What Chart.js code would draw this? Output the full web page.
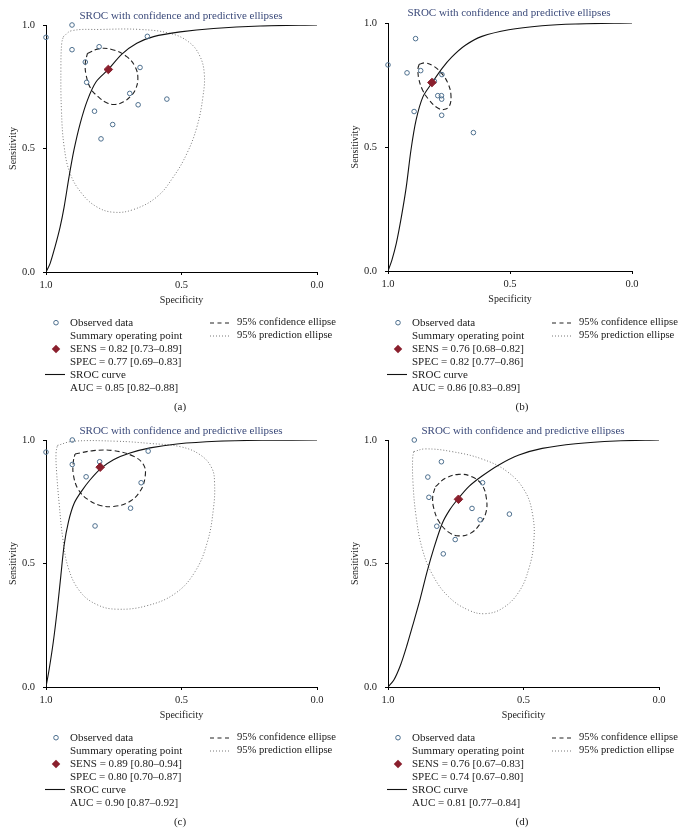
<!DOCTYPE html>
<html>
<head>
<meta charset="utf-8">
<script src="https://cdn.jsdelivr.net/npm/chart.js@4.4.1/dist/chart.umd.min.js"></script>
<style>
body { margin:0; background:#fff; width:684px; height:836px; position:relative; overflow:hidden; font-family:"Liberation Serif", "DejaVu Serif", serif; }
canvas { position:absolute; }
.ttl { position:absolute; font-size:11px; color:#3b4a7a; white-space:nowrap; transform:translate(-50%,-50%); }
.lg { position:absolute; font-size:11px; color:#1a1a1a; white-space:nowrap; line-height:12.9px; }
.lg.r { font-size:10.6px; }
.cap { position:absolute; font-size:11px; color:#1a1a1a; transform:translate(-50%,-50%); }
svg { position:absolute; left:0; top:0; }
</style>
</head>
<body>
<canvas id="pa" width="342" height="310" style="left:0;top:0"></canvas>
<canvas id="pb" width="342" height="310" style="left:342px;top:0"></canvas>
<canvas id="pc" width="342" height="310" style="left:0;top:415px"></canvas>
<canvas id="pd" width="342" height="310" style="left:342px;top:415px"></canvas>
<svg id="marks" width="684" height="836"></svg>
<script>
// panel (a)
const specA = [1.00, 0.904, 0.904, 0.804, 0.855, 0.850, 0.626, 0.653, 0.691, 0.660, 0.554, 0.821, 0.754, 0.797];
const sensA = [0.950, 1.000, 0.900, 0.912, 0.850, 0.768, 0.954, 0.828, 0.723, 0.677, 0.700, 0.651, 0.597, 0.539];
const summaryA = {spec: 0.77, sens: 0.82};
const srocSpecA = [1.0, 0.985, 0.967, 0.948, 0.933, 0.915, 0.897, 0.874, 0.847, 0.815, 0.770, 0.720, 0.665, 0.603, 0.505, 0.382, 0.209, 0.0];
const srocSensA = [0, 0.034, 0.101, 0.182, 0.264, 0.385, 0.493, 0.601, 0.696, 0.770, 0.820, 0.882, 0.926, 0.953, 0.972, 0.986, 0.996, 1.0];
const confSpecA = [0.847, 0.800, 0.751, 0.702, 0.671, 0.661, 0.671, 0.690, 0.714, 0.745, 0.776, 0.807, 0.835, 0.852, 0.855];
const confSensA = [0.885, 0.905, 0.899, 0.872, 0.831, 0.784, 0.736, 0.709, 0.689, 0.678, 0.685, 0.709, 0.743, 0.797, 0.845];
const predSpecA = [0.936, 0.905, 0.800, 0.653, 0.542, 0.474, 0.434, 0.416, 0.421, 0.443, 0.480, 0.530, 0.591, 0.677, 0.751, 0.813, 0.868, 0.911, 0.933, 0.943, 0.945, 0.942];
const predSensA = [0.953, 0.977, 0.982, 0.982, 0.966, 0.932, 0.878, 0.804, 0.709, 0.588, 0.480, 0.385, 0.304, 0.253, 0.242, 0.264, 0.318, 0.399, 0.507, 0.655, 0.831, 0.926];

// panel (b)
const specB = [1.0, 0.887, 0.922, 0.866, 0.893, 0.810, 0.779, 0.796, 0.781, 0.780, 0.780, 0.650];
const sensB = [0.831, 0.937, 0.799, 0.808, 0.643, 0.765, 0.792, 0.707, 0.707, 0.693, 0.628, 0.558];
const summaryB = {spec: 0.82, sens: 0.76};
const srocSpecB = [1.0, 0.984, 0.966, 0.945, 0.925, 0.906, 0.885, 0.857, 0.820, 0.779, 0.738, 0.683, 0.615, 0.505, 0.369, 0.232, 0.0];
const srocSensB = [0, 0.044, 0.111, 0.219, 0.340, 0.487, 0.608, 0.702, 0.758, 0.816, 0.863, 0.910, 0.946, 0.973, 0.989, 0.996, 1.0];
const confSpecB = [0.872, 0.847, 0.813, 0.779, 0.754, 0.742, 0.749, 0.772, 0.799, 0.831, 0.858, 0.874, 0.877];
const confSensB = [0.834, 0.839, 0.826, 0.796, 0.756, 0.709, 0.664, 0.651, 0.659, 0.689, 0.729, 0.776, 0.816];

// panel (c)
const specC = [1.0, 0.903, 0.903, 0.802, 0.852, 0.623, 0.649, 0.688, 0.819];
const sensC = [0.951, 1.0, 0.901, 0.912, 0.851, 0.955, 0.827, 0.724, 0.652];
const summaryC = {spec: 0.80, sens: 0.89};
const srocSpecC = [1.0, 0.988, 0.973, 0.958, 0.945, 0.933, 0.917, 0.896, 0.868, 0.837, 0.797, 0.751, 0.690, 0.616, 0.517, 0.369, 0.185, 0.0];
const srocSensC = [0, 0.074, 0.183, 0.318, 0.453, 0.575, 0.670, 0.744, 0.794, 0.839, 0.885, 0.920, 0.947, 0.968, 0.984, 0.995, 0.999, 1.0];
const confSpecC = [0.893, 0.825, 0.751, 0.677, 0.640, 0.634, 0.653, 0.696, 0.751, 0.800, 0.844, 0.880, 0.899, 0.899];
const confSensC = [0.943, 0.957, 0.957, 0.934, 0.900, 0.853, 0.792, 0.748, 0.731, 0.735, 0.758, 0.798, 0.859, 0.913];
const predSpecC = [0.958, 0.899, 0.739, 0.616, 0.505, 0.431, 0.388, 0.378, 0.382, 0.404, 0.450, 0.523, 0.628, 0.739, 0.813, 0.874, 0.917, 0.938, 0.951, 0.961, 0.963];
const predSensC = [0.978, 0.995, 0.995, 0.986, 0.973, 0.940, 0.886, 0.825, 0.724, 0.589, 0.467, 0.379, 0.329, 0.315, 0.334, 0.386, 0.480, 0.602, 0.737, 0.873, 0.947];

// panel (d)
const specD = [0.903, 0.803, 0.853, 0.849, 0.651, 0.690, 0.660, 0.552, 0.820, 0.752, 0.796];
const sensD = [1.0, 0.912, 0.850, 0.768, 0.827, 0.723, 0.677, 0.700, 0.651, 0.597, 0.539];
const summaryD = {spec: 0.74, sens: 0.76};
const srocSpecD = [1.0, 0.979, 0.954, 0.930, 0.905, 0.881, 0.856, 0.831, 0.800, 0.773, 0.745, 0.702, 0.653, 0.591, 0.517, 0.431, 0.308, 0.160, 0.0];
const srocSensD = [0, 0.027, 0.088, 0.169, 0.264, 0.358, 0.466, 0.561, 0.662, 0.716, 0.757, 0.811, 0.854, 0.899, 0.939, 0.966, 0.985, 0.996, 1.0];
const confSpecD = [0.825, 0.788, 0.739, 0.690, 0.653, 0.637, 0.638, 0.659, 0.696, 0.739, 0.778, 0.813, 0.831, 0.835];
const confSensD = [0.811, 0.845, 0.861, 0.851, 0.818, 0.764, 0.709, 0.662, 0.622, 0.612, 0.628, 0.672, 0.723, 0.770];
const predSpecD = [0.905, 0.862, 0.764, 0.653, 0.560, 0.495, 0.466, 0.462, 0.480, 0.517, 0.576, 0.640, 0.702, 0.776, 0.835, 0.874, 0.897, 0.908, 0.909];
const predSensD = [0.953, 0.964, 0.953, 0.923, 0.872, 0.793, 0.696, 0.588, 0.480, 0.385, 0.320, 0.297, 0.311, 0.365, 0.453, 0.561, 0.696, 0.831, 0.926];

const legendStats = {
    a: ['SENS = 0.82 [0.73\u20130.89]', 'SPEC = 0.77 [0.69\u20130.83]', 'AUC = 0.85 [0.82\u20130.88]'],
    b: ['SENS = 0.76 [0.68\u20130.82]', 'SPEC = 0.82 [0.77\u20130.86]', 'AUC = 0.86 [0.83\u20130.89]'],
    c: ['SENS = 0.89 [0.80\u20130.94]', 'SPEC = 0.80 [0.70\u20130.87]', 'AUC = 0.90 [0.87\u20130.92]'],
    d: ['SENS = 0.76 [0.67\u20130.83]', 'SPEC = 0.74 [0.67\u20130.80]', 'AUC = 0.81 [0.77\u20130.84]']
};

const serif = '"Liberation Serif", "DejaVu Serif", serif';
const pts = (xs, ys) => xs.map((x, i) => ({x: x, y: ys[i]}));
const loop = (xs, ys) => { let p = pts(xs, ys); return p.concat([p[0]]); };

function drawPanel(id, p) {
    let datasets = [
        {data: [{x: p.summary.spec, y: p.summary.sens}], pointStyle: 'rectRot', pointRadius: 4.3,
         backgroundColor: '#8a1f2d', borderColor: '#8a1f2d', showLine: false, clip: false},
        {data: pts(p.spec, p.sens), pointStyle: 'circle', pointRadius: 2.3, pointBorderWidth: 1,
         borderColor: '#4d6f8e', backgroundColor: 'rgba(255,255,255,0)', showLine: false, clip: false},
        {data: pts(p.srocSpec, p.srocSens), showLine: true, pointRadius: 0, borderColor: '#111',
         borderWidth: 1.1, tension: 0.3},
        {data: loop(p.confSpec, p.confSens), showLine: true, pointRadius: 0, borderColor: '#222',
         borderWidth: 1.1, borderDash: [5, 3], tension: 0.4}
    ];
    if (p.predSpec) {
        datasets.push({data: loop(p.predSpec, p.predSens), showLine: true, pointRadius: 0,
            borderColor: '#777', borderWidth: 1, borderDash: [1, 2], tension: 0.4});
    }
    const axisCommon = {
        type: 'linear', min: 0, max: 1,
        grid: {display: true, drawOnChartArea: false, tickLength: 3, color: '#000'},
        border: {display: true, color: '#000', width: 1}
    };
    new Chart(document.getElementById(id), {
        type: 'scatter',
        data: {datasets: datasets},
        options: {
            responsive: false, animation: false,
            layout: {padding: {top: p.top, right: p.right, bottom: p.bottom, left: 0}},
            plugins: {legend: {display: false}, tooltip: {enabled: false}},
            scales: {
                x: Object.assign({}, axisCommon, {
                    reverse: true,
                    ticks: {stepSize: 0.5, padding: 4, maxRotation: 0, color: '#222',
                            font: {family: serif, size: 10.5}, callback: v => v.toFixed(1)},
                    title: {display: true, text: 'Specificity', color: '#222',
                            font: {family: serif, size: 10}, padding: 0},
                    afterFit: s => { s.height = 34; }
                }),
                y: Object.assign({}, axisCommon, {
                    ticks: {stepSize: 0.5, padding: 8, color: '#222',
                            font: {family: serif, size: 10.5}, callback: v => v.toFixed(1)},
                    title: {display: true, text: 'Sensitivity', color: '#222',
                            font: {family: serif, size: 10}, padding: {top: 7, bottom: 0}},
                    afterFit: s => { s.width = 46; }
                })
            }
        }
    });
}

drawPanel('pa', {spec: specA, sens: sensA, summary: summaryA, srocSpec: srocSpecA, srocSens: srocSensA,
    confSpec: confSpecA, confSens: confSensA, predSpec: predSpecA, predSens: predSensA, top: 25, right: 25, bottom: 4});
drawPanel('pb', {spec: specB, sens: sensB, summary: summaryB, srocSpec: srocSpecB, srocSens: srocSensB,
    confSpec: confSpecB, confSens: confSensB, top: 23, right: 52, bottom: 5});
drawPanel('pc', {spec: specC, sens: sensC, summary: summaryC, srocSpec: srocSpecC, srocSens: srocSensC,
    confSpec: confSpecC, confSens: confSensC, predSpec: predSpecC, predSens: predSensC, top: 25, right: 25, bottom: 4});
drawPanel('pd', {spec: specD, sens: sensD, summary: summaryD, srocSpec: srocSpecD, srocSens: srocSensD,
    confSpec: confSpecD, confSens: confSensD, predSpec: predSpecD, predSens: predSensD, top: 25, right: 25, bottom: 4});

// titles, legends, captions
const panels = [
    {key: 'a', dx: 0, dy: 0, tx: 181, ty: 14.7},
    {key: 'b', dx: 342, dy: 0, tx: 167, ty: 12},
    {key: 'c', dx: 0, dy: 415, tx: 181, ty: 14.7},
    {key: 'd', dx: 342, dy: 415, tx: 181, ty: 14.7}
];
const svg = document.getElementById('marks');
const ns = 'http://www.w3.org/2000/svg';
function addSvg(tag, attrs) {
    const el = document.createElementNS(ns, tag);
    for (const k in attrs) el.setAttribute(k, attrs[k]);
    svg.appendChild(el);
}
function addDiv(cls, x, y, html) {
    const d = document.createElement('div');
    d.className = cls;
    d.style.left = x + 'px';
    d.style.top = y + 'px';
    d.innerHTML = html;
    document.body.appendChild(d);
}
panels.forEach(p => {
    const s = legendStats[p.key];
    addDiv('ttl', p.dx + p.tx, p.dy + p.ty, 'SROC with confidence and predictive ellipses');
    addDiv('lg', p.dx + 70, p.dy + 316.3,
        'Observed data<br>Summary operating point<br>' + s[0] + '<br>' + s[1] + '<br>SROC curve<br>' + s[2]);
    addDiv('lg r', p.dx + 237, p.dy + 316.3, '95% confidence ellipse<br>95% prediction ellipse');
    addDiv('cap', p.dx + 180, p.dy + 406, '(' + p.key + ')');
    addSvg('circle', {cx: p.dx + 56, cy: p.dy + 322.7, r: 2.3, fill: 'none', stroke: '#4d6f8e', 'stroke-width': 1});
    addSvg('rect', {x: p.dx + 53, y: p.dy + 346, width: 6, height: 6, fill: '#8a1f2d',
        transform: 'rotate(45 ' + (p.dx + 56) + ' ' + (p.dy + 349) + ')'});
    addSvg('line', {x1: p.dx + 45, y1: p.dy + 374.5, x2: p.dx + 65, y2: p.dy + 374.5, stroke: '#111', 'stroke-width': 1.1});
    addSvg('line', {x1: p.dx + 210, y1: p.dy + 323, x2: p.dx + 231, y2: p.dy + 323, stroke: '#222',
        'stroke-width': 1.1, 'stroke-dasharray': '4 3.5'});
    addSvg('line', {x1: p.dx + 210, y1: p.dy + 336, x2: p.dx + 231, y2: p.dy + 336, stroke: '#777',
        'stroke-width': 1, 'stroke-dasharray': '1 2'});
});
</script>
</body>
</html>
